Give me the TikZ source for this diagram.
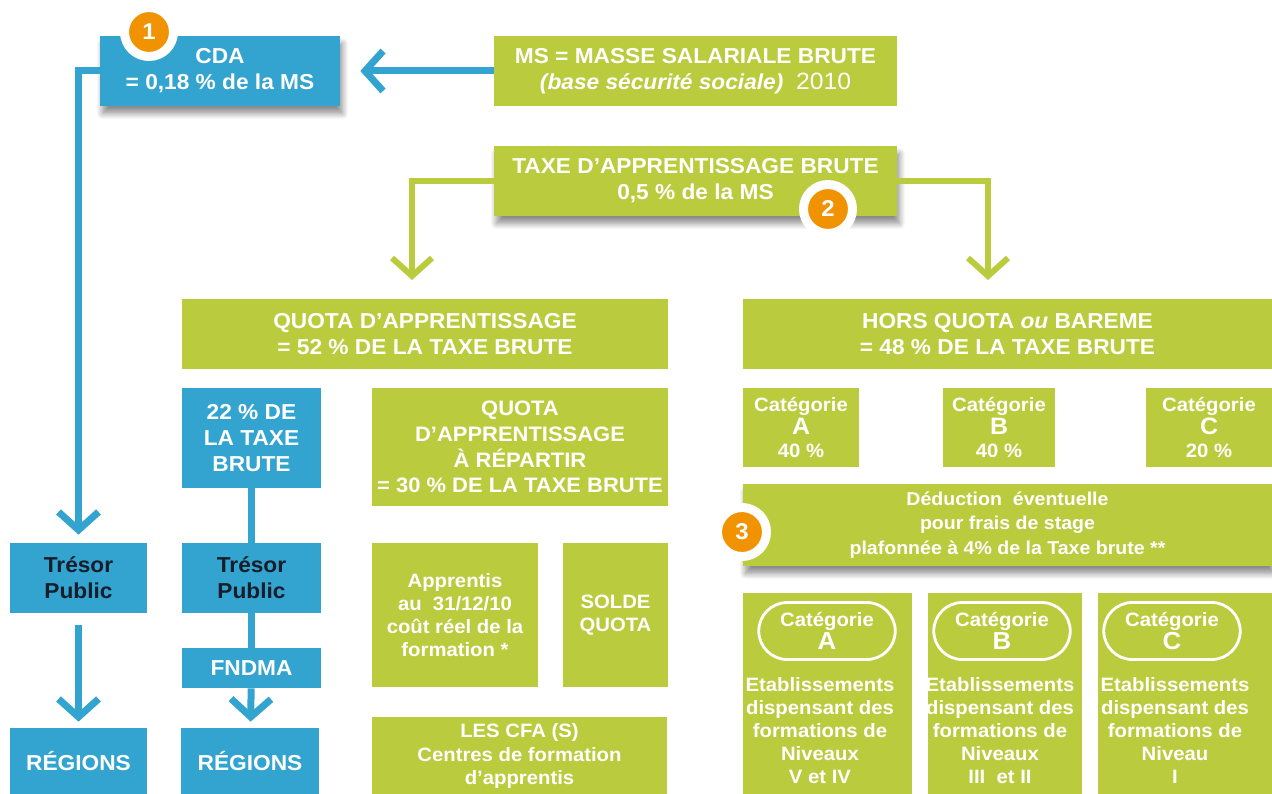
\documentclass[tikz,border=0pt]{standalone}
\usepackage{fontspec}
\setmainfont[FakeStretch=1.05]{Liberation Sans}
\usetikzlibrary{arrows.meta,positioning,shadows,shadows.blur,shapes.misc}
\definecolor{tablue}{RGB}{51,164,207}
\definecolor{tagreen}{RGB}{186,204,62}
\definecolor{taorange}{RGB}{241,146,0}
\definecolor{tadark}{RGB}{22,30,44}

\begin{document}
\begin{tikzpicture}[x=0.02cm, y=-0.02cm,
    box/.style={rectangle, inner sep=1pt, align=center, text=white,
        font=\bfseries\fontsize{12.3}{14.8}\selectfont},
    bluebox/.style={box, fill=tablue},
    greenbox/.style={box, fill=tagreen},
    small/.style={font=\bfseries\fontsize{11}{13.2}\selectfont},
    shade/.style={blur shadow={shadow xshift=0.5mm, shadow yshift=-1.5mm, shadow blur steps=10,
        shadow blur radius=1.2mm, shadow opacity=45}},
    arr/.style={-{Straight Barb[length=0.36cm, width=0.8cm]}, line width=0.14cm, tablue},
    link/.style={line width=0.14cm, tablue},
    garr/.style={-{Straight Barb[length=0.36cm, width=0.8cm]}, line width=0.12cm, tagreen},
    badge/.style={circle, fill=taorange, draw=white, line width=0.18cm, minimum size=0.98cm,
        inner sep=0pt, text=white, font=\bfseries\fontsize{13}{13}\selectfont},
    tag/.style={rounded rectangle, draw=white, line width=1.6pt, minimum width=2.8cm,
        minimum height=1.14cm, inner sep=1pt, align=center, text=white,
        font=\bfseries\fontsize{11}{12.8}\selectfont}
]
\useasboundingbox (0,0) rectangle (1272,794);

% top row
\node[bluebox, shade, minimum width=4.8cm, minimum height=1.4cm] (cda) at (220,71) {CDA\\= 0,18 \% de la MS};
\node[greenbox, minimum width=8.06cm, minimum height=1.4cm] (ms) at (695.5,71)
    {MS = MASSE SALARIALE BRUTE\\{\itshape (base sécurité sociale)}\ \ {\mdseries\fontsize{13.4}{14.8}\selectfont 2010}};
\node[greenbox, shade, minimum width=8.06cm, minimum height=1.4cm] (taxe) at (695.5,181)
    {TAXE D’APPRENTISSAGE BRUTE\\0,5 \% de la MS};

% quota / hors quota
\node[greenbox, minimum width=9.72cm, minimum height=1.4cm] (quota) at (425,334)
    {QUOTA D’APPRENTISSAGE\\= 52 \% DE LA TAXE BRUTE};
\node[greenbox, minimum width=10.58cm, minimum height=1.4cm] (hors) at (1007.5,334)
    {HORS QUOTA \textit{ou} BAREME\\= 48 \% DE LA TAXE BRUTE};

% blue columns
\node[bluebox, minimum width=2.78cm, minimum height=2cm] (pct22) at (251.5,438) {22 \% DE\\LA TAXE\\BRUTE};
\node[bluebox, text=tadark, minimum width=2.74cm, minimum height=1.4cm] (tresor1) at (78.5,578) {Trésor\\Public};
\node[bluebox, text=tadark, minimum width=2.78cm, minimum height=1.4cm] (tresor2) at (251.5,578) {Trésor\\Public};
\node[bluebox, minimum width=2.78cm, minimum height=0.8cm] (fndma) at (251.5,668) {FNDMA};
\node[bluebox, minimum width=2.74cm, minimum height=1.32cm] (reg1) at (78.5,761) {RÉGIONS};
\node[bluebox, minimum width=2.76cm, minimum height=1.32cm] (reg2) at (250,761) {RÉGIONS};

% quota detail
\node[greenbox, font=\bfseries\fontsize{11.9}{14.6}\selectfont, minimum width=5.92cm, minimum height=2.36cm] (repartir) at (520,447)
    {QUOTA\\D’APPRENTISSAGE\\À RÉPARTIR\\= 30 \% DE LA TAXE BRUTE};
\node[greenbox, small, minimum width=3.32cm, minimum height=2.88cm] (apprentis) at (455,615)
    {Apprentis\\au\ \ 31/12/10\\coût réel de la\\formation *};
\node[greenbox, small, minimum width=2.1cm, minimum height=2.88cm] (solde) at (615.5,615) {SOLDE\\QUOTA};
\node[greenbox, small, minimum width=5.9cm, minimum height=1.56cm] (cfa) at (519.5,756)
    {LES CFA (S)\\Centres de formation\\d{\char"27}apprentis};

% hors quota detail
\node[greenbox, small, minimum width=2.32cm, minimum height=1.58cm] (cata) at (801,427.5)
    {Catégorie\\{\fontsize{13.5}{13.4}\selectfont A}\\40 \%};
\node[greenbox, small, minimum width=2.24cm, minimum height=1.58cm] (catb) at (999,427.5)
    {Catégorie\\{\fontsize{13.5}{13.4}\selectfont B}\\40 \%};
\node[greenbox, small, minimum width=2.52cm, minimum height=1.58cm] (catc) at (1209,427.5)
    {Catégorie\\{\fontsize{13.5}{13.4}\selectfont C}\\20 \%};
\node[greenbox, shade, font=\bfseries\fontsize{10.6}{14}\selectfont, minimum width=10.58cm, minimum height=1.64cm] (deduc) at (1007.5,525)
    {Déduction\ \ éventuelle\\pour frais de stage\\plafonnée à 4\% de la Taxe brute **};

\node[greenbox, minimum width=3.38cm, minimum height=4.02cm] (bota) at (827.5,693.5) {};
\node[greenbox, minimum width=3.08cm, minimum height=4.02cm] (botb) at (1005,693.5) {};
\node[greenbox, minimum width=3.48cm, minimum height=4.02cm] (botc) at (1185,693.5) {};
\node[tag] (taga) at (827,631) {Catégorie\\{\fontsize{14}{12.8}\selectfont A}};
\node[tag] (tagb) at (1002,631) {Catégorie\\{\fontsize{14}{12.8}\selectfont B}};
\node[tag] (tagc) at (1172,631) {Catégorie\\{\fontsize{14}{12.8}\selectfont C}};
\node[box, small, anchor=north] (txta) at (820,675) {Etablissements\\dispensant des\\formations de\\Niveaux\\V et IV};
\node[box, small, anchor=north] (txtb) at (1000,675) {Etablissements\\dispensant des\\formations de\\Niveaux\\III\ \ et II};
\node[box, small, anchor=north] (txtc) at (1175,675) {Etablissements\\dispensant des\\formations de\\Niveau\\I};

% connectors
\coordinate (qtip) at (412,280);
\coordinate (htip) at (988,280);
\draw[arr, shorten >=0.4cm] (ms.west) -- (cda.east);
\draw[arr, shorten >=0.16cm] (cda.west) -| (tresor1.north);
\draw[arr, shorten <=0.24cm, shorten >=0.12cm] (tresor1) -- (reg1);
\draw[link] (pct22) -- (tresor2);
\draw[link] (tresor2) -- (fndma);
\draw[arr, shorten >=0.12cm] (fndma) -- (reg2);
\draw[garr] (taxe.west) -| (qtip);
\draw[garr] (taxe.east) -| (htip);

% numbered badges
\node[badge] (b1) at (149,32) {1};
\node[badge] (b2) at (828,209) {2};
\node[badge] (b3) at (742,532) {3};
\end{tikzpicture}
\end{document}
